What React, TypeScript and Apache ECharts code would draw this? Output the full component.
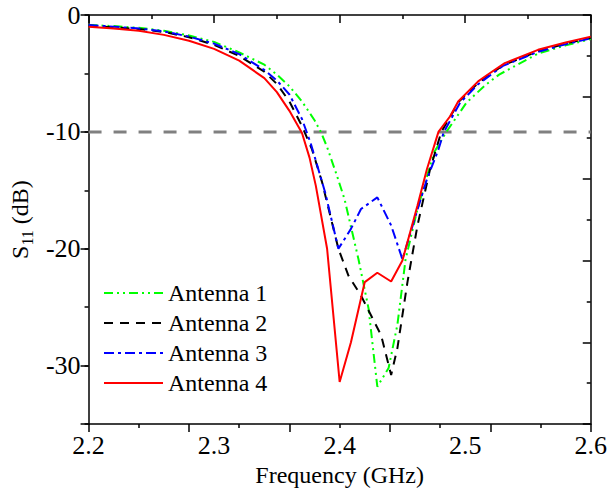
import React, { useEffect, useRef } from "react";
import * as echarts from "echarts";

const seriesNames = ["Antenna 1", "Antenna 2", "Antenna 3", "Antenna 4"];
const seriesColors = ["#00ff00", "#000000", "#0000ff", "#ff0000"];

const freq1 = [2.2, 2.22, 2.24, 2.26, 2.28, 2.3, 2.32, 2.34, 2.35, 2.36, 2.37, 2.38, 2.385, 2.39, 2.398, 2.404, 2.415, 2.423, 2.43, 2.439, 2.446, 2.4525, 2.462, 2.475, 2.485, 2.501, 2.516, 2.527, 2.558, 2.58, 2.6];
const s11_1 = [-0.85, -0.95, -1.1, -1.35, -1.75, -2.3, -3.2, -4.25, -5.1, -6.1, -7.4, -9.0, -10.0, -11.3, -13.8, -15.8, -20.9, -25.1, -31.8, -30.2, -26.5, -20.9, -16.6, -11.8, -10.0, -7.5, -6.0, -5.1, -3.3, -2.6, -2.05];

const freq2 = [2.2, 2.22, 2.24, 2.26, 2.28, 2.3, 2.32, 2.34, 2.35, 2.36, 2.37, 2.378, 2.386, 2.399, 2.407, 2.417, 2.433, 2.441, 2.446, 2.454, 2.462, 2.472, 2.481, 2.495, 2.51, 2.53, 2.558, 2.58, 2.6];
const s11_2 = [-0.9, -1.05, -1.2, -1.45, -1.9, -2.55, -3.5, -4.85, -5.9, -7.4, -9.5, -11.5, -14.3, -20.0, -22.3, -24.0, -27.4, -30.8, -28.5, -22.85, -18.0, -13.2, -10.0, -7.4, -5.85, -4.3, -3.1, -2.45, -1.95];

const freq3 = [2.2, 2.22, 2.24, 2.26, 2.28, 2.3, 2.32, 2.34, 2.35, 2.36, 2.37, 2.377, 2.3885, 2.399, 2.409, 2.417, 2.43, 2.441, 2.45, 2.459, 2.4695, 2.4787, 2.483, 2.496, 2.51, 2.53, 2.558, 2.58, 2.6];
const s11_3 = [-0.85, -1.0, -1.15, -1.4, -1.85, -2.45, -3.35, -4.7, -5.6, -6.8, -8.9, -11.0, -15.2, -20.0, -18.3, -16.6, -15.6, -18.0, -20.9, -17.7, -14.05, -11.5, -10.0, -7.5, -5.95, -4.35, -3.15, -2.5, -2.0];

const freq4 = [2.2, 2.22, 2.24, 2.26, 2.28, 2.3, 2.32, 2.34, 2.35, 2.36, 2.37, 2.376, 2.381, 2.39, 2.4, 2.409, 2.42, 2.43, 2.441, 2.45, 2.462, 2.4695, 2.4787, 2.488, 2.4944, 2.5103, 2.5166, 2.5315, 2.558, 2.58, 2.6];
const s11_4 = [-1.0, -1.15, -1.35, -1.7, -2.2, -2.9, -3.9, -5.4, -6.6, -8.2, -10.1, -12.2, -14.6, -20.0, -31.4, -28.0, -22.85, -22.05, -22.8, -21.0, -16.3, -13.2, -10.0, -8.66, -7.4, -5.68, -5.2, -4.12, -2.98, -2.35, -1.85];

const freqs = [freq1, freq2, freq3, freq4];
const values = [s11_1, s11_2, s11_3, s11_4];
const dashes: any[] = [[9, 4, 2, 4, 2, 4], [9, 7], [10, 4, 3, 4], "solid"];

const refLevel = -10;
const xRange = [2.2, 2.6];

const FONT = "Liberation Serif";

export default function App() {
  const ref = useRef<HTMLDivElement>(null);
  useEffect(() => {
    if (!ref.current) return;
    const chart = echarts.init(ref.current, null, { renderer: "svg" });
    const axisLine = { show: true, lineStyle: { color: "#000", width: 1.5 } };
    const series: any[] = seriesNames.map((name, i) => ({
      name,
      type: "line",
      xAxisIndex: 0,
      yAxisIndex: 0,
      symbol: "none",
      data: freqs[i].map((f, j) => [f, values[i][j]]),
      lineStyle: { color: seriesColors[i], width: 2, type: dashes[i] },
      itemStyle: { color: seriesColors[i] },
      z: 3 + i,
    }));
    series.unshift({
      name: "ref",
      type: "line",
      xAxisIndex: 0,
      yAxisIndex: 0,
      symbol: "none",
      data: [[xRange[0], refLevel], [xRange[1], refLevel]],
      lineStyle: { color: "#808080", width: 3, type: [13, 12] },
      z: 2,
    });
    chart.setOption({
      animation: false,
      backgroundColor: "#fff",
      textStyle: { fontFamily: FONT },
      grid: { left: 83, right: 17, top: 15, bottom: 66, containLabel: false },
      legend: {
        data: seriesNames,
        orient: "vertical",
        left: 103,
        top: 281,
        padding: 0,
        itemWidth: 59,
        itemHeight: 24,
        itemGap: 6,
        itemStyle: { opacity: 0, color: "transparent", borderWidth: 0 },
        textStyle: { fontFamily: FONT, fontSize: 24, color: "#000", lineHeight: 24 },
      },
      xAxis: [
        {
          type: "value",
          position: "bottom",
          min: 2.2,
          max: 2.6,
          interval: 0.1,
          axisLine,
          splitLine: { show: false },
          axisTick: { show: true, inside: false, length: 8, lineStyle: { color: "#000", width: 1.5 } },
          minorTick: { show: true, splitNumber: 2, length: 4, lineStyle: { color: "#000", width: 1.5 } },
          axisLabel: {
            fontFamily: FONT,
            fontSize: 26,
            color: "#000",
            margin: 8,
            formatter: (v: number) => v.toFixed(1),
          },
          name: "Frequency (GHz)",
          nameLocation: "middle",
          nameGap: 38,
          nameTextStyle: { fontFamily: FONT, fontSize: 24, color: "#000" },
        },
        {
          type: "value",
          position: "top",
          min: 0,
          max: 10,
          interval: 2,
          axisLine,
          splitLine: { show: false },
          axisTick: { show: true, inside: true, length: 8, lineStyle: { color: "#000", width: 1.5 } },
          minorTick: { show: true, splitNumber: 2, length: 4, lineStyle: { color: "#000", width: 1.5 } },
          axisLabel: { show: false },
        },
      ],
      yAxis: [
        {
          type: "value",
          position: "left",
          min: -35,
          max: 0,
          interval: 5,
          axisLine,
          splitLine: { show: false },
          axisTick: { show: true, inside: false, length: 4, lineStyle: { color: "#000", width: 1.5 } },
          axisLabel: {
            fontFamily: FONT,
            fontSize: 26,
            color: "#000",
            margin: 8,
            formatter: (v: number) => (Math.round(v) % 10 === 0 ? String(Math.round(v)) : ""),
          },
          name: "{m|S}{s|11}{m| (dB)}",
          nameLocation: "middle",
          nameGap: 48,
          nameRotate: 90,
          nameTextStyle: {
            fontFamily: FONT,
            fontSize: 24,
            color: "#000",
            rich: {
              m: { fontFamily: FONT, fontSize: 24, color: "#000", lineHeight: 30, verticalAlign: "middle" },
              s: { fontFamily: FONT, fontSize: 16, color: "#000", lineHeight: 16, verticalAlign: "bottom" },
            },
          },
        },
        {
          type: "value",
          position: "right",
          min: 0,
          max: 10,
          interval: 2,
          axisLine,
          splitLine: { show: false },
          axisTick: { show: true, inside: true, length: 8, lineStyle: { color: "#000", width: 1.5 } },
          minorTick: { show: true, splitNumber: 2, length: 4, lineStyle: { color: "#000", width: 1.5 } },
          axisLabel: { show: false },
        },
        {
          type: "value",
          position: "left",
          inverse: true,
          min: 0,
          max: 35,
          interval: 10,
          axisLine: { show: false },
          splitLine: { show: false },
          axisTick: { show: true, inside: false, length: 8, lineStyle: { color: "#000", width: 1.5 } },
          axisLabel: { show: false },
        },
      ],
      series,
    });
    return () => chart.dispose();
  }, []);
  return (
    <div
      ref={ref}
      style={{ position: "fixed", left: 0, top: 0, width: 610, height: 492, background: "#fff" }}
    />
  );
}
